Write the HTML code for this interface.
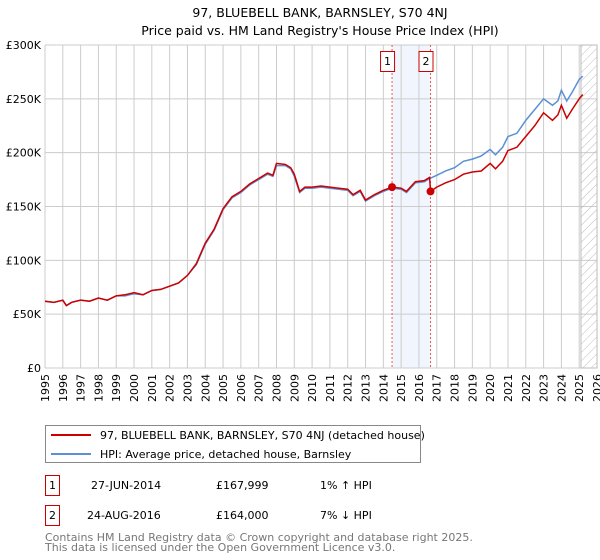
<!DOCTYPE html>
<html><head><meta charset="utf-8"><style>
body{margin:0;background:#fff;font-family:"DejaVu Sans","Liberation Sans",sans-serif;}
svg{display:block}
</style></head><body>
<svg width="600" height="560" font-family="DejaVu Sans, Liberation Sans, sans-serif">
<text x="320" y="17" text-anchor="middle" font-size="12.5">97, BLUEBELL BANK, BARNSLEY, S70 4NJ</text>
<text x="320" y="35" text-anchor="middle" font-size="12.5">Price paid vs. HM Land Registry's House Price Index (HPI)</text>
<g id="plot"></g>
<g>
<rect x="45.5" y="425.5" width="375" height="37" fill="#fff" stroke="#888"/>
<line x1="51" y1="435" x2="91" y2="435" stroke="#cc0000" stroke-width="2"/>
<text x="100" y="439" font-size="11">97, BLUEBELL BANK, BARNSLEY, S70 4NJ (detached house)</text>
<line x1="51" y1="454" x2="91" y2="454" stroke="#5b8fd6" stroke-width="2"/>
<text x="100" y="458" font-size="11">HPI: Average price, detached house, Barnsley</text>
</g>
<g font-size="11">
<rect x="45.5" y="475.5" width="14" height="20" fill="#fff" stroke="#cc0000"/>
<text x="52.5" y="489" text-anchor="middle">1</text>
<text x="91" y="489">27-JUN-2014</text><text x="216" y="489">£167,999</text><text x="320" y="489">1% ↑ HPI</text>
<rect x="45.5" y="505.5" width="14" height="20" fill="#fff" stroke="#cc0000"/>
<text x="52.5" y="519" text-anchor="middle">2</text>
<text x="87" y="519">24-AUG-2016</text><text x="216" y="519">£164,000</text><text x="320" y="519">7% ↓ HPI</text>
</g>
<text x="45" y="541" font-size="11" fill="#777">Contains HM Land Registry data © Crown copyright and database right 2025.</text>
<text x="45" y="551" font-size="11" fill="#777">This data is licensed under the Open Government Licence v3.0.</text>
</svg>
<script>
const hpiT=[1995,1995.5,1996,1996.2,1996.5,1997,1997.5,1998,1998.5,1999,1999.5,2000,2000.5,2001,2001.5,2002,2002.5,2003,2003.5,2004,2004.5,2005,2005.5,2006,2006.5,2007,2007.5,2007.8,2008,2008.5,2008.8,2009,2009.3,2009.6,2010,2010.5,2011,2011.5,2012,2012.3,2012.7,2013,2013.5,2014,2014.5,2015,2015.3,2015.8,2016.3,2016.6,2017,2017.5,2018,2018.5,2019,2019.5,2020,2020.3,2020.7,2021,2021.5,2022,2022.5,2023,2023.5,2023.8,2024,2024.3,2024.6,2025,2025.2];
const hpiV=[62,61,63,58,61,63,62,65,63,67,67,69,68,72,73,76,79,86,96,115,128,147,158,163,170,175,180,178,188,188,185,178,163,167,167,168,167,166,165,160,164,155,160,164,167,166,163,172,173,176,179,183,186,192,194,197,203,198,205,215,218,230,240,250,244,248,258,248,256,268,271];
const redT=[1995,1995.5,1996,1996.2,1996.5,1997,1997.5,1998,1998.5,1999,1999.5,2000,2000.5,2001,2001.5,2002,2002.5,2003,2003.5,2004,2004.5,2005,2005.5,2006,2006.5,2007,2007.5,2007.8,2008,2008.5,2008.8,2009,2009.3,2009.6,2010,2010.5,2011,2011.5,2012,2012.3,2012.7,2013,2013.5,2014,2014.5,2015,2015.3,2015.8,2016.3,2016.6,2016.65,2017,2017.5,2018,2018.5,2019,2019.5,2020,2020.3,2020.7,2021,2021.5,2022,2022.5,2023,2023.5,2023.8,2024,2024.3,2024.6,2025,2025.2];
const redV=[62,61,63,58,61,63,62,65,63,67,68,70,68,72,73,76,79,86,97,116,129,148,159,164,171,176,181,179,190,189,186,180,164,168,168,169,168,167,166,161,165,156,161,165,168,167,164,173,174,177,164,168,172,175,180,182,183,190,185,192,202,205,215,225,237,230,235,244,232,240,250,254];
const saleT=[2014.49,2016.65];
const saleV=[168,164];
const saleLabels=["1","2"];
const yTicks=[0,50,100,150,200,250,300];
const yTickLabels=["£0","£50K","£100K","£150K","£200K","£250K","£300K"];
const xTicks=[1995,1996,1997,1998,1999,2000,2001,2002,2003,2004,2005,2006,2007,2008,2009,2010,2011,2012,2013,2014,2015,2016,2017,2018,2019,2020,2021,2022,2023,2024,2025,2026];

const X0=45,X1=597,Y0=368,Y1=45;
const xs=t=>X0+(t-1995)/(2026-1995)*(X1-X0);
const ys=v=>Y0-v/300*(Y0-Y1);
const NS="http://www.w3.org/2000/svg";
const g=document.getElementById('plot');
function mk(tag,attrs,parent){const e=document.createElementNS(NS,tag);for(const k in attrs)e.setAttribute(k,attrs[k]);(parent||g).appendChild(e);return e;}
let band=mk('rect',{x:xs(saleT[0]),y:Y1,width:xs(saleT[1])-xs(saleT[0]),height:Y0-Y1,fill:'#eef3fc',opacity:0.8});


const defs=mk('defs',{});
const pat=mk('pattern',{id:'hatch',width:6,height:6,patternUnits:'userSpaceOnUse',patternTransform:'rotate(45)'},defs);
mk('line',{x1:0,y1:0,x2:0,y2:6,stroke:'#bbb','stroke-width':1},pat);
xTicks.forEach((t,i)=>{
  const l=mk('line',{x1:xs(t),y1:Y1,x2:xs(t),y2:Y0,stroke:'#ccc','stroke-width':1});
  
  
  const tx=mk('text',{x:0,y:0,'font-size':11,'text-anchor':'end',transform:`translate(${xs(t)+4},${Y0+6}) rotate(-90)`});
  tx.textContent=t;
  
  
});
yTicks.forEach((v,i)=>{
  const l=mk('line',{x1:X0,y1:ys(v),x2:X1,y2:ys(v),stroke:'#ccc','stroke-width':1});
  
  
  const tx=mk('text',{x:X0-4,y:ys(v)+4,'font-size':11,'text-anchor':'end'});
  tx.textContent=yTickLabels[i];
  
  
});
let h=mk('rect',{x:xs(2025.1),y:Y1,width:X1-xs(2025.1),height:Y0-Y1,fill:'url(#hatch)',stroke:'#bbb'});


saleT.forEach((t,i)=>{
  const l=mk('line',{x1:xs(t),y1:Y1,x2:xs(t),y2:Y0,stroke:'#e55','stroke-width':1,'stroke-dasharray':'2,2'});
  
  
  const r=mk('rect',{x:xs(t)-11.5,y:51.5,width:14,height:20,fill:'#fff',stroke:'#cc0000'});
  
  
  const tx=mk('text',{x:xs(t)-4.5,y:65,'font-size':11,'text-anchor':'middle'});
  tx.textContent=saleLabels[i];
  
  
});
const hp=mk('polyline',{points:hpiT.map((t,i)=>xs(t)+','+ys(hpiV[i])).join(' '),fill:'none',stroke:'#5b8fd6','stroke-width':1.5});


const rp=mk('polyline',{points:redT.map((t,i)=>xs(t)+','+ys(redV[i])).join(' '),fill:'none',stroke:'#cc0000','stroke-width':1.5});


saleT.forEach((t,i)=>{
  const c=mk('circle',{cx:xs(t),cy:ys(saleV[i]),r:4,fill:'#cc0000'});
  
  
});
</script>
</body></html>
